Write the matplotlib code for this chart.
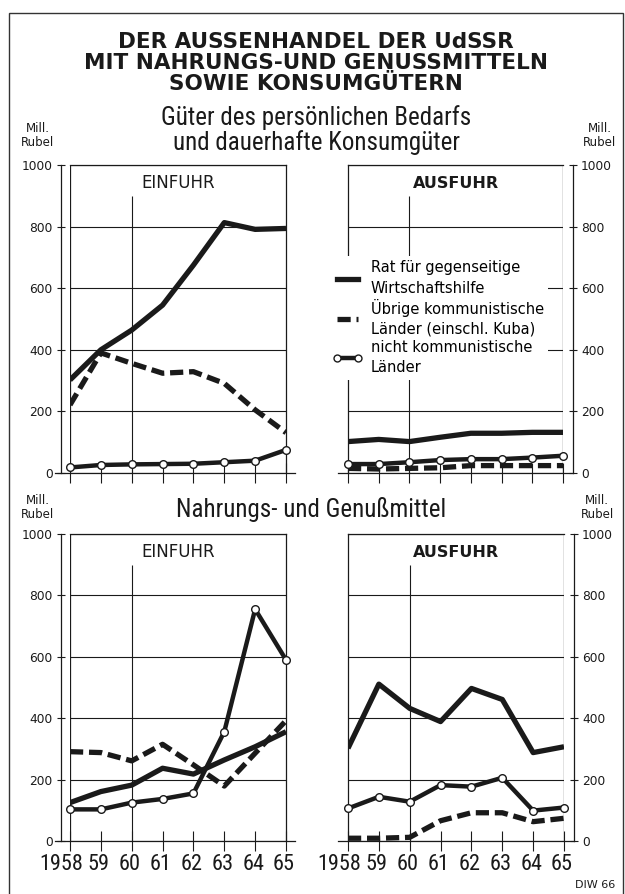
import matplotlib
matplotlib.use('Agg')
import matplotlib.pyplot as plt
from matplotlib import font_manager
from matplotlib.lines import Line2D
from matplotlib.patches import Rectangle
from matplotlib.transforms import ScaledTranslation

years = [1958, 1959, 1960, 1961, 1962, 1963, 1964, 1965]
year_labels = ['1958', '59', '60', '61', '62', '63', '64', '65']

# Güter des persönlichen Bedarfs und dauerhafte Konsumgüter (Mill. Rubel)
kons_ein_rgw = [302, 400, 464, 545, 675, 813, 791, 794]
kons_ein_uebrige = [221, 390, 356, 324, 329, 291, 205, 131]
kons_ein_nichtkomm = [18, 26, 28, 29, 30, 35, 40, 75]
kons_aus_rgw = [102, 109, 102, 116, 129, 129, 132, 132]
kons_aus_uebrige = [15, 13, 15, 17, 24, 24, 24, 24]
kons_aus_nichtkomm = [29, 29, 35, 42, 45, 45, 50, 56]

# Nahrungs- und Genußmittel (Mill. Rubel)
nahr_ein_rgw = [125, 161, 182, 237, 218, 264, 307, 356]
nahr_ein_uebrige = [291, 288, 261, 315, 248, 179, 286, 392]
nahr_ein_nichtkomm = [103, 103, 125, 137, 155, 356, 755, 590]
nahr_aus_rgw = [302, 511, 432, 389, 497, 461, 288, 307]
nahr_aus_uebrige = [9, 9, 12, 66, 92, 92, 63, 74]
nahr_aus_nichtkomm = [106, 144, 128, 182, 177, 206, 99, 109]

legend_labels = ['Rat für gegenseitige\nWirtschaftshilfe',
                 'Übrige kommunistische\nLänder (einschl. Kuba)',
                 'nicht kommunistische\nLänder']

# pick a narrow font if one is installed
installed = {f.name for f in font_manager.fontManager.ttflist}
COND = 'DejaVu Sans'
year_size = 11.5
for name in ['Roboto Condensed', 'Liberation Sans Narrow', 'Open Sans Condensed',
             'Noto Sans Condensed', 'DejaVu Sans Condensed']:
    if name in installed:
        COND = name
        year_size = 16
        break

INK = '#1a1a1a'
W, H = 625, 894

fig = plt.figure(figsize=(W / 100, H / 100), dpi=100)


def px_rect(x0, y0, x1, y1):
    return [x0 / W, 1 - y1 / H, (x1 - x0) / W, (y1 - y0) / H]


def panel(rect, side, label, rgw, uebrige, nichtkomm, show_years):
    ax = fig.add_axes(rect)
    ax.set_xlim(1958, 1965)
    ax.set_ylim(0, 1000)
    for s in ax.spines.values():
        s.set_color(INK)
        s.set_linewidth(0.9)
    span = 7 / (rect[2] * W)  # years per pixel
    if side == 'left':
        ax.spines['left'].set_position(('outward', 6.5))
        ax.axvline(1958, color=INK, lw=0.9)
        ax.spines['bottom'].set_bounds(1958 - 15 * span, 1965 + 9 * span)
    else:
        ax.spines['right'].set_position(('outward', 7))
        ax.axvline(1965, color=INK, lw=0.9)
        ax.yaxis.tick_right()
        ax.spines['bottom'].set_bounds(1958 - 10 * span, 1965 + 10 * span)
    ax.set_yticks(range(0, 1001, 200))
    ax.grid(axis='y', color=INK, lw=0.8)
    ax.tick_params(axis='y', direction='inout', length=6, width=0.8,
                   labelsize=8.8, pad=3, colors=INK)
    ax.set_xticks(years)
    ax.tick_params(axis='x', direction='inout', length=14, width=0.8,
                   pad=2, colors=INK)
    if show_years:
        ax.set_xticklabels(year_labels, fontsize=year_size, family=COND)
        for i, lab in enumerate(ax.get_xticklabels()):
            shift = -9 if i == 0 else -2
            lab.set_transform(lab.get_transform() +
                              ScaledTranslation(shift / 100, 0, fig.dpi_scale_trans))
    else:
        ax.set_xticklabels([])
    ax.vlines(1960, 0, 900, color=INK, lw=0.8)

    ax.plot(years, rgw, color=INK, lw=3.8, solid_joinstyle='round',
            solid_capstyle='butt', zorder=3)
    ax.plot(years, uebrige, color=INK, lw=3.8, ls=(0, (2.5, 1.1)),
            zorder=3)
    ax.plot(years, nichtkomm, color=INK, lw=3.2, marker='o', ms=5.5,
            mfc='white', mec=INK, mew=1.0, solid_joinstyle='round',
            zorder=4, clip_on=False)
    bold = label == 'AUSFUHR'
    ax.text(0.5, 0.94, label, transform=ax.transAxes, ha='center',
            va='center', fontsize=11.5 if bold else 12,
            fontweight='bold' if bold else 'normal', color=INK)
    return ax


ax1 = panel(px_rect(70, 165, 286, 473), 'left', 'EINFUHR',
            kons_ein_rgw, kons_ein_uebrige, kons_ein_nichtkomm, False)
ax2 = panel(px_rect(348, 165, 563, 473), 'right', 'AUSFUHR',
            kons_aus_rgw, kons_aus_uebrige, kons_aus_nichtkomm, False)
ax3 = panel(px_rect(70, 534, 286, 841), 'left', 'EINFUHR',
            nahr_ein_rgw, nahr_ein_uebrige, nahr_ein_nichtkomm, True)
ax4 = panel(px_rect(348, 534, 564, 841), 'right', 'AUSFUHR',
            nahr_aus_rgw, nahr_aus_uebrige, nahr_aus_nichtkomm, True)

handles = [Line2D([], [], color=INK, lw=3.8),
           Line2D([], [], color=INK, lw=3.8, ls=(0, (2.5, 1.1))),
           Line2D([], [], color=INK, lw=3.2, marker='o', ms=5,
                  mfc='white', mec=INK, mew=1.0)]
leg = ax2.legend(handles, legend_labels, loc='upper left',
                 bbox_to_anchor=(-0.09, 0.705), frameon=True, fancybox=False,
                 facecolor='white', edgecolor='none', framealpha=1,
                 handlelength=2.0, handletextpad=0.6,
                 labelspacing=0.2, borderpad=0.3, borderaxespad=0,
                 numpoints=2, prop={'family': 'DejaVu Sans', 'size': 10.5})
for t in leg.get_texts():
    t.set_linespacing(1.45)
leg.set_zorder(10)

# titles
fig.text(316 / W, 1 - 63 / H,
         'DER AUSSENHANDEL DER UdSSR\nMIT NAHRUNGS-UND GENUSSMITTELN\nSOWIE KONSUMGÜTERN',
         ha='center', va='center', fontsize=15.5, fontweight='bold',
         linespacing=1.08, color=INK)
fig.text(316 / W, 1 - 130 / H,
         'Güter des persönlichen Bedarfs\nund dauerhafte Konsumgüter',
         ha='center', va='center', fontsize=18, family=COND,
         linespacing=1.02, color=INK)
fig.text(311 / W, 1 - 510 / H, 'Nahrungs- und Genußmittel',
         ha='center', va='center', fontsize=18, family=COND, color=INK)

for x, y in [(38, 135), (600, 135), (38, 507), (597, 507)]:
    fig.text(x / W, 1 - y / H, 'Mill.\nRubel', ha='center', va='center',
             fontsize=8.5, linespacing=1.1, color=INK)

fig.text(595 / W, 1 - 885 / H, 'DIW 66', ha='center', va='center',
         fontsize=8, color=INK)

fig.add_artist(Rectangle((9 / W, -0.02), (623 - 9) / W, 1.02 - 13 / H,
                         transform=fig.transFigure, fill=False,
                         lw=1.0, ec='#333333', clip_on=False))

fig.savefig('out.png', dpi=100)
